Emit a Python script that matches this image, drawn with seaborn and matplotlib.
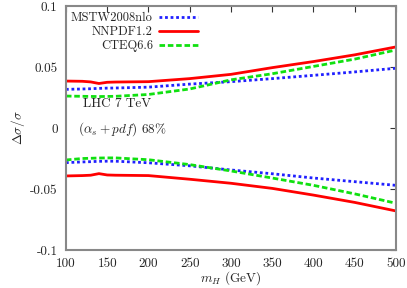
import numpy as np
import pandas as pd
import matplotlib
matplotlib.use("Agg")
import matplotlib.pyplot as plt
import seaborn as sns

# Higgs mass grid (GeV)
m_h = [100, 120, 130, 140, 150, 160, 200, 250, 300, 350, 400, 450, 500]

# relative uncertainties, upper and lower edges
mstw_up = [0.0317, 0.0320, 0.0322, 0.0325, 0.0327, 0.0328, 0.0335, 0.0360, 0.0380, 0.0405, 0.0432, 0.0460, 0.0490]
mstw_dn = [-0.0284, -0.0278, -0.0276, -0.0273, -0.0272, -0.0272, -0.0285, -0.0310, -0.0344, -0.0375, -0.0410, -0.0440, -0.0470]
nnpdf_up = [0.0385, 0.0383, 0.0378, 0.0365, 0.0375, 0.0377, 0.0380, 0.0405, 0.0440, 0.0495, 0.0545, 0.0600, 0.0665]
nnpdf_dn = [-0.0393, -0.0390, -0.0387, -0.0374, -0.0385, -0.0387, -0.0390, -0.0420, -0.0453, -0.0495, -0.0550, -0.0610, -0.0680]
cteq_up = [0.0262, 0.0260, 0.0259, 0.0258, 0.0259, 0.0260, 0.0275, 0.0320, 0.0395, 0.0445, 0.0505, 0.0565, 0.0640]
cteq_dn = [-0.0262, -0.0250, -0.0248, -0.0246, -0.0245, -0.0245, -0.0260, -0.0300, -0.0352, -0.0410, -0.0470, -0.0540, -0.0617]

x_ticks = [100, 150, 200, 250, 300, 350, 400, 450, 500]
y_ticks = [-0.1, -0.05, 0, 0.05, 0.1]
y_tick_labels = ["-0.1", "-0.05", "0", "0.05", "0.1"]

sns.set_style("white")
plt.rcParams["font.family"] = ["cmr10", "DejaVu Serif"]
plt.rcParams["mathtext.fontset"] = "cm"
plt.rcParams["axes.unicode_minus"] = False

fig = plt.figure(figsize=(4.07, 2.88), dpi=100)
ax = fig.add_axes([0.162, 0.132, 0.811, 0.847])

series = [
    ("MSTW2008nlo", mstw_up, mstw_dn, "#2020ff", (0, (1, 1))),
    ("NNPDF1.2", nnpdf_up, nnpdf_dn, "#ff0000", "-"),
    ("CTEQ6.6", cteq_up, cteq_dn, "#10e010", (0, (2, 1))),
]
for name, up, dn, col, ls in series:
    sns.lineplot(x=m_h, y=up, ax=ax, color=col, linestyle=ls, lw=2, label=name)
    sns.lineplot(x=m_h, y=dn, ax=ax, color=col, linestyle=ls, lw=2, label="_nolegend_")

ax.set_xlim(100, 500)
ax.set_ylim(-0.1, 0.1)
ax.set_xticks(x_ticks)
ax.set_xticklabels([str(t) for t in x_ticks])
ax.set_yticks(y_ticks)
ax.set_yticklabels(y_tick_labels)
ax.tick_params(direction="in", top=True, right=True, length=4, width=0.8,
               color="#333333", labelsize=9.5, pad=6)
for s in ax.spines.values():
    s.set_color("#888888")
    s.set_linewidth(1.5)

ax.set_xlabel("$m_H$ (GeV)", fontsize=9.5, labelpad=-1)
ax.set_ylabel(r"$\Delta\sigma/\sigma$", fontsize=9.5, labelpad=2)

ax.text(162, 0.0195, "LHC 7 TeV", fontsize=9.5, ha="center", va="center")
ax.text(168, -0.001, r"$(\alpha_s + pdf)$ 68%", fontsize=9.5, ha="center", va="center")

leg = ax.legend(loc="upper left", frameon=False, markerfirst=False, fontsize=9,
                handlelength=3.1, handletextpad=0.5, labelspacing=0.15,
                borderaxespad=0.0, bbox_to_anchor=(0.0, 0.995))
for t in leg.get_texts():
    t.set_ha("right")
leg._legend_box.align = "right"

fig.savefig("out.png", dpi=100)
